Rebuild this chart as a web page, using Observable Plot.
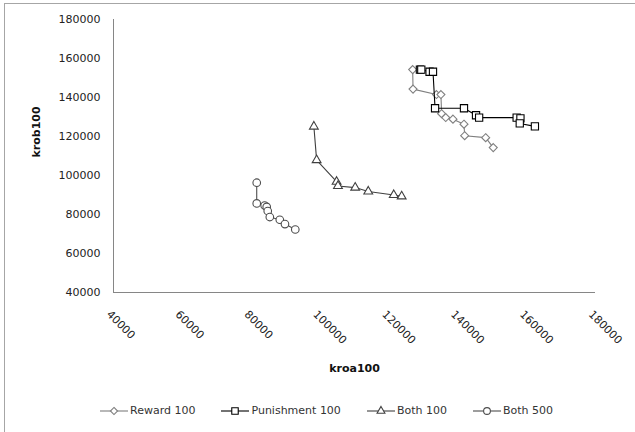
<!DOCTYPE html>
<html>
<head>
<meta charset="utf-8">
<script src="https://cdn.jsdelivr.net/npm/d3@7"></script>
<script src="https://cdn.jsdelivr.net/npm/@observablehq/plot@0.6"></script>
<style>
  html, body { margin: 0; padding: 0; background: #fff; }
  #wrap { position: relative; width: 635px; height: 432px; overflow: hidden; font-family: "DejaVu Sans", sans-serif; }
  #frame { position: absolute; left: 4px; top: 3px; right: -2px; bottom: -2px; border-left: 1px solid #a6a6a6; border-top: 1px solid #a6a6a6; pointer-events: none; }
  #chart { position: absolute; left: 0; top: 0; }
  #legend { position: absolute; left: 100px; top: 403px; display: flex; align-items: center; font-size: 11px; color: #333; line-height: 16px; white-space: nowrap; }
  .item { display: flex; align-items: center; margin-right: 26px; }
  .item svg { margin-right: 2px; }
</style>
</head>
<body>
<div id="wrap">
  <div id="chart"></div>
  <div id="frame"></div>
  <div id="legend"></div>
</div>
<script>
// ---- data ----
const seriesNames = ["Reward 100", "Punishment 100", "Both 100", "Both 500"];

const rewardX = [126900, 127000, 133800, 135100, 135300, 136500, 138600, 141800, 142000, 148100, 150300];
const rewardY = [154300, 144300, 141500, 141500, 131700, 129700, 128900, 126300, 120400, 119400, 114300];

const punishX = [129000, 129400, 131800, 132800, 133400, 141800, 145300, 146200, 157100, 158200, 158000, 162400];
const punishY = [154300, 154300, 153200, 153200, 134500, 134500, 130900, 129700, 129700, 129300, 126700, 125200];

const both100X = [98200, 99000, 104800, 105200, 110200, 114000, 121400, 123700];
const both100Y = [125100, 107900, 96800, 94600, 93800, 91800, 90000, 89300];

const both500X = [81600, 81600, 83900, 84500, 84800, 85400, 88300, 89800, 92800];
const both500Y = [96300, 85700, 84600, 83900, 81800, 78700, 77300, 75100, 72300];

const xTicks = [40000, 60000, 80000, 100000, 120000, 140000, 160000, 180000];
const yTicks = [40000, 60000, 80000, 100000, 120000, 140000, 160000, 180000];
const xTitle = "kroa100";
const yTitle = "krob100";

// ---- styles ----
const styles = {
  "Reward 100":     {xs: rewardX,  ys: rewardY,  symbol: "diamond2",  d3sym: d3.symbolDiamond2,  r: 3.6, color: "#7f7f7f"},
  "Punishment 100": {xs: punishX,  ys: punishY,  symbol: "square2",   d3sym: d3.symbolSquare2,   r: 4.6, color: "#000000"},
  "Both 100":       {xs: both100X, ys: both100Y, symbol: "triangle2", d3sym: d3.symbolTriangle2, r: 4.2, color: "#404040"},
  "Both 500":       {xs: both500X, ys: both500Y, symbol: "circle",    d3sym: d3.symbolCircle,    r: 3.8, color: "#4d4d4d"}
};

const seriesMarks = seriesNames.flatMap(name => {
  const s = styles[name];
  const rows = s.xs.map((x, i) => ({series: name, x, y: s.ys[i]}));
  return [
    Plot.line(rows, {x: "x", y: "y", stroke: s.color, strokeWidth: 1.1}),
    Plot.dot(rows, {x: "x", y: "y", symbol: () => s.symbol, r: s.r, fill: "white", stroke: s.color, strokeWidth: 1.1})
  ];
});

const chart = Plot.plot({
  width: 635,
  height: 432,
  marginLeft: 113,
  marginRight: 40,
  marginTop: 19,
  marginBottom: 140,
  style: {fontFamily: "DejaVu Sans, sans-serif", fontSize: "11px", color: "#222", background: "transparent"},
  x: {domain: [40000, 180000], axis: null},
  y: {domain: [40000, 180000], axis: null},
  symbol: {type: "identity"},
  marks: [
    Plot.ruleY([40000], {stroke: "#868686"}),
    Plot.ruleX([40000], {stroke: "#868686"}),
    Plot.axisY(yTicks, {tickSize: 0, tickPadding: 13, label: null, tickFormat: d => String(d), fill: "#222"}),
    Plot.text(xTicks, {x: d => d, y: () => 40000, text: d => String(d), rotate: 45, textAnchor: "start", dx: -5, dy: 20, fill: "#222"}),
    Plot.text([xTitle], {frameAnchor: "bottom", text: d => d, dy: 79, fontWeight: "bold", fontSize: 11, fill: "#111"}),
    Plot.text([yTitle], {frameAnchor: "left", text: d => d, dx: -77, dy: 1.5, rotate: -90, fontWeight: "bold", fontSize: 11, fill: "#111"}),
    ...seriesMarks
  ]
});
document.getElementById("chart").appendChild(chart);

// ---- legend ----
const legend = d3.select("#legend");
seriesNames.forEach(name => {
  const s = styles[name];
  const item = legend.append("div").attr("class", "item");
  const svg = item.append("svg").attr("width", 28).attr("height", 12);
  svg.append("line").attr("x1", 0).attr("x2", 28).attr("y1", 6).attr("y2", 6)
    .attr("stroke", s.color).attr("stroke-width", 1.1);
  svg.append("path").attr("transform", "translate(14,6)")
    .attr("d", d3.symbol(s.d3sym, Math.PI * s.r * s.r * 0.8)())
    .attr("fill", "white").attr("stroke", s.color).attr("stroke-width", 1.1);
  item.append("span").text(name);
});
</script>
</body>
</html>
